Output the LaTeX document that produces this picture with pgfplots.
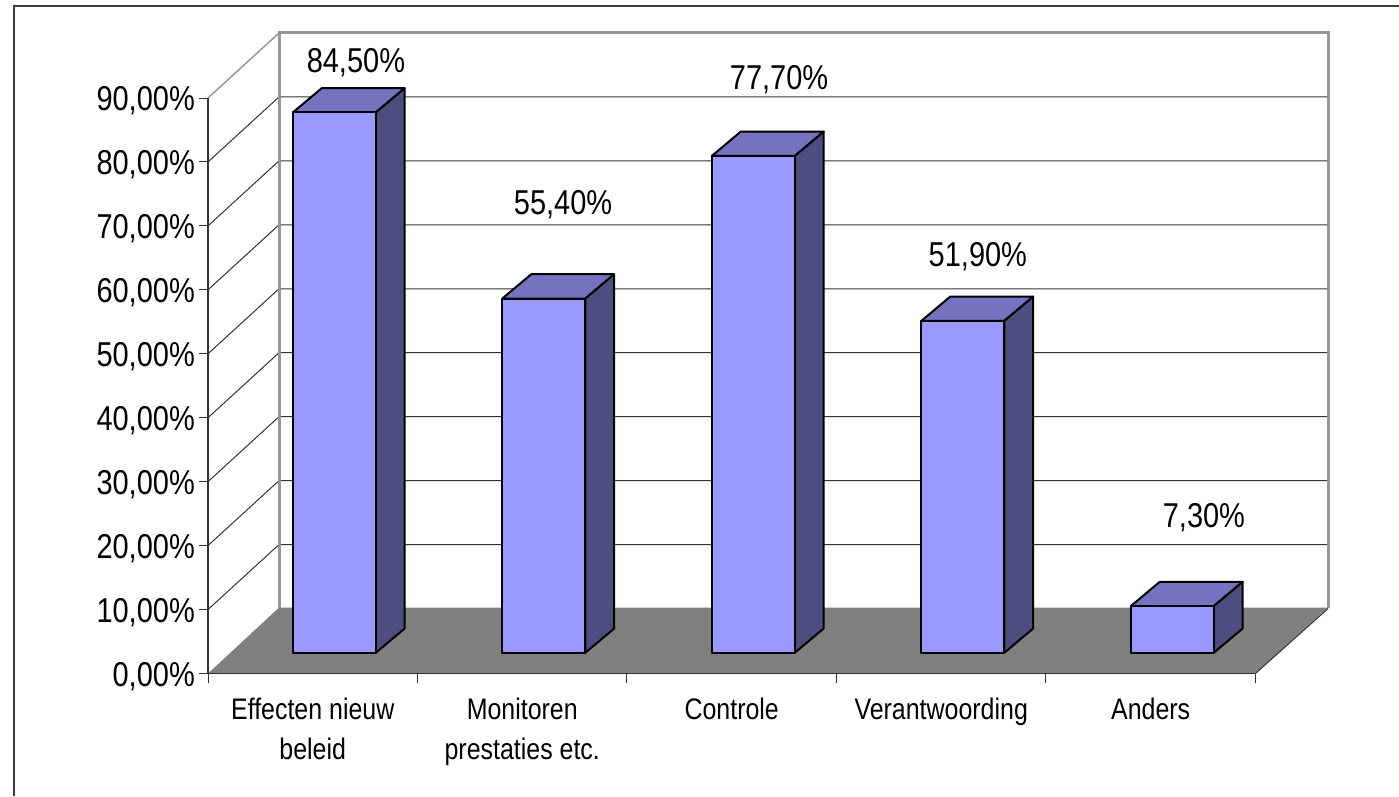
\documentclass[border=0pt]{standalone}
\usepackage{fontspec}
\setmainfont[FakeStretch=0.84]{Liberation Sans}
\usepackage{pgfplots}
\pgfplotsset{compat=1.18}
\definecolor{barfront}{RGB}{153,153,255}
\definecolor{bartop}{RGB}{115,115,191}
\definecolor{barside}{RGB}{77,77,128}
\definecolor{floorgrey}{RGB}{128,128,128}
\definecolor{wallgrey}{RGB}{150,150,150}
\definecolor{gridline}{RGB}{50,50,50}
\definecolor{framecol}{RGB}{60,60,60}

% one 3D column: position, value, label x, label baseline y, label text
\newcommand{\column}[5]{
  \addplot[draw=black, line width=2pt, line join=round, fill=bartop] coordinates
    {({#1+0.405},{#2+3.24}) ({#1+0.543},{#2+7.04}) ({#1+0.939},{#2+7.04}) ({#1+0.801},{#2+3.24})} --cycle;
  \addplot[draw=black, line width=2pt, line join=round, fill=barside] coordinates
    {({#1+0.801},{3.24}) ({#1+0.939},{7.04}) ({#1+0.939},{#2+7.04}) ({#1+0.801},{#2+3.24})} --cycle;
  \addplot[draw=black, line width=2pt, line join=round, fill=barfront] coordinates
    {({#1+0.405},{3.24}) ({#1+0.801},{3.24}) ({#1+0.801},{#2+3.24}) ({#1+0.405},{#2+3.24})} --cycle;
  \node[anchor=base, inner sep=0pt, font=\fontsize{34.5}{34.5}\selectfont] at (axis cs:#3,#4) {#5};
}

\begin{document}
\begin{tikzpicture}[x=1pt, y=1pt]
\useasboundingbox (0,0) rectangle (1399,796);
\draw[framecol, line width=2pt] (14,0) -- (14,789.5) -- (1399,789.5);
\begin{axis}[
    at={(208pt,122.5pt)}, anchor=south west,
    scale only axis, width=1047.5pt, height=575.5pt,
    xmin=0, xmax=5, ymin=0, ymax=90,
    clip=false, axis on top,
    axis lines*=left,
    axis line style={-, line width=1.2pt, color=gridline},
    tick style={color=gridline, line width=1pt},
    tick align=outside,
    major tick length=9pt,
    xtick={0,1,2,3,4,5},
    x tick label as interval,
    xticklabels={{Effecten nieuw\\beleid},{Monitoren\\prestaties etc.},Controle,Verantwoording,Anders},
    xticklabel style={align=center, inner sep=0pt, font=\fontsize{29.7}{40}\selectfont, yshift=-15pt},
    ytick={0,10,...,90},
    yticklabel={\pgfmathprintnumber{\tick}\%},
    yticklabel style={inner sep=0pt, font=\fontsize{34.5}{34.5}\selectfont, xshift=-4pt, yshift=-3pt},
    /pgf/number format/.cd, use comma, fixed, fixed zerofill, precision=2, assume math mode=true,
]
% floor and walls
\addplot[draw=none, fill=floorgrey] coordinates {(0,0) (0.339,10.3) (5.347,10.3) (5,0)} --cycle;
\pgfplotsinvokeforeach{10,20,...,80}{
  \draw[gridline, line width=1pt] (axis cs:0,#1) -- (axis cs:0.339,#1+10.17) -- (axis cs:5.347,#1+10.17);
}
\draw[gridline, line width=1pt] (axis cs:5,0) -- (axis cs:5.347,10.17);
\draw[wallgrey, line width=1.5pt] (axis cs:0,90) -- (axis cs:0.339,100.17);
\draw[wallgrey, line width=3pt] (axis cs:0.339,10.3) -- (axis cs:0.339,100.17) -- (axis cs:5.347,100.17) -- (axis cs:5.347,10.3);
% columns
\column{0}{84.5}{0.706}{94.0}{84,50\%}
\column{1}{55.4}{1.695}{71.8}{55,40\%}
\column{2}{77.7}{2.726}{91.4}{77,70\%}
\column{3}{51.9}{3.675}{63.7}{51,90\%}
\column{4}{7.3}{4.754}{22.9}{7,30\%}
\end{axis}
\end{tikzpicture}
\end{document}
